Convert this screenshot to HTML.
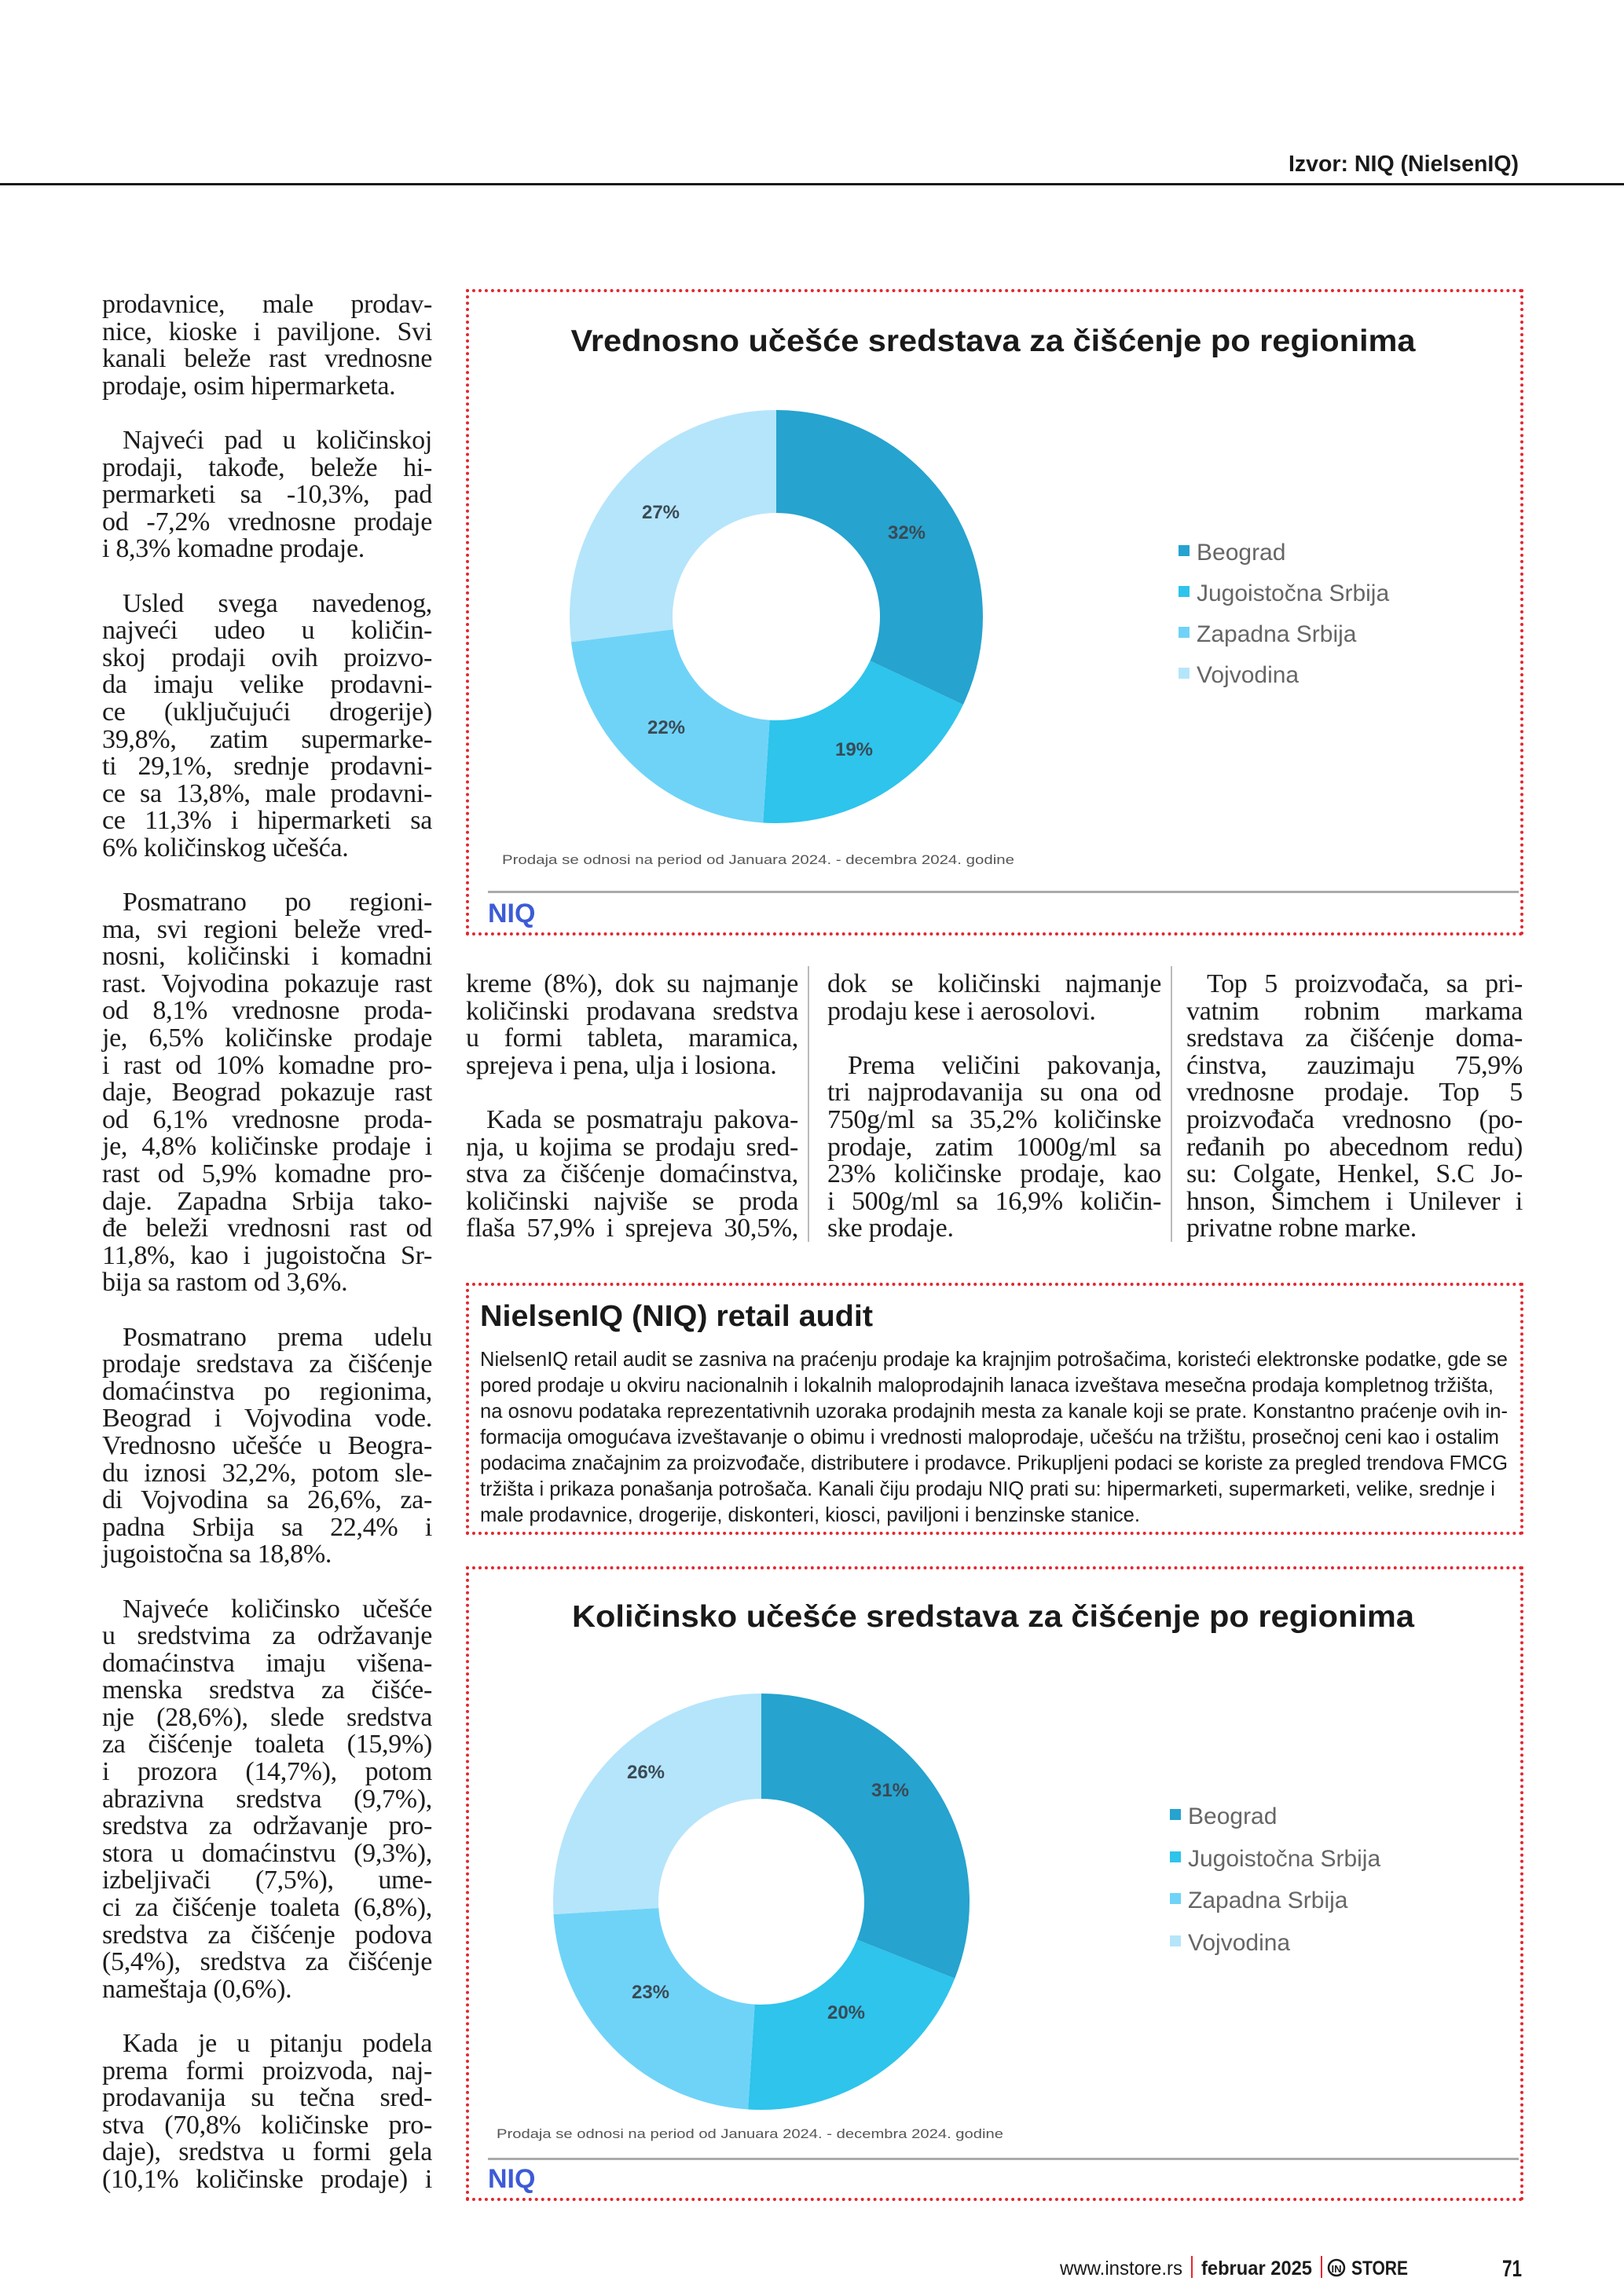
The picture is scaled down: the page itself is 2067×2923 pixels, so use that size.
<!DOCTYPE html>
<html><head><meta charset="utf-8">
<style>
html,body{margin:0;padding:0;background:#fff}
body{width:2067px;height:2923px;position:relative;overflow:hidden;font-family:"Liberation Serif",serif;color:#1a1a1a}
.abs{position:absolute}
.col{position:absolute;font-family:"Liberation Serif",serif;font-size:34px;line-height:34.6px;color:#1c1c1c;letter-spacing:-0.3px}
.col div{white-space:nowrap;height:34.6px}
.col .j{text-align:justify;text-align-last:justify}
.col .i{text-indent:26px}
.box{position:absolute;border:4px dotted #e3262e;box-sizing:border-box}
</style></head><body>

<!-- left column -->
<div class="col" style="left:130px;top:371px;width:420px">
<div class="j">prodavnice, male prodav-</div>
<div class="j">nice, kioske i paviljone. Svi</div>
<div class="j">kanali beleže rast vrednosne</div>
<div>prodaje, osim hipermarketa.</div>
<div></div>
<div class="j i">Najveći pad u količinskoj</div>
<div class="j">prodaji, takođe, beleže hi-</div>
<div class="j">permarketi sa -10,3%, pad</div>
<div class="j">od -7,2% vrednosne prodaje</div>
<div>i 8,3% komadne prodaje.</div>
<div></div>
<div class="j i">Usled svega navedenog,</div>
<div class="j">najveći udeo u količin-</div>
<div class="j">skoj prodaji ovih proizvo-</div>
<div class="j">da imaju velike prodavni-</div>
<div class="j">ce (uključujući drogerije)</div>
<div class="j">39,8%, zatim supermarke-</div>
<div class="j">ti 29,1%, srednje prodavni-</div>
<div class="j">ce sa 13,8%, male prodavni-</div>
<div class="j">ce 11,3% i hipermarketi sa</div>
<div>6% količinskog učešća.</div>
<div></div>
<div class="j i">Posmatrano po regioni-</div>
<div class="j">ma, svi regioni beleže vred-</div>
<div class="j">nosni, količinski i komadni</div>
<div class="j">rast. Vojvodina pokazuje rast</div>
<div class="j">od 8,1% vrednosne proda-</div>
<div class="j">je, 6,5% količinske prodaje</div>
<div class="j">i rast od 10% komadne pro-</div>
<div class="j">daje, Beograd pokazuje rast</div>
<div class="j">od 6,1% vrednosne proda-</div>
<div class="j">je, 4,8% količinske prodaje i</div>
<div class="j">rast od 5,9% komadne pro-</div>
<div class="j">daje. Zapadna Srbija tako-</div>
<div class="j">đe beleži vrednosni rast od</div>
<div class="j">11,8%, kao i jugoistočna Sr-</div>
<div>bija sa rastom od 3,6%.</div>
<div></div>
<div class="j i">Posmatrano prema udelu</div>
<div class="j">prodaje sredstava za čišćenje</div>
<div class="j">domaćinstva po regionima,</div>
<div class="j">Beograd i Vojvodina vode.</div>
<div class="j">Vrednosno učešće u Beogra-</div>
<div class="j">du iznosi 32,2%, potom sle-</div>
<div class="j">di Vojvodina sa 26,6%, za-</div>
<div class="j">padna Srbija sa 22,4% i</div>
<div>jugoistočna sa 18,8%.</div>
<div></div>
<div class="j i">Najveće količinsko učešće</div>
<div class="j">u sredstvima za održavanje</div>
<div class="j">domaćinstva imaju višena-</div>
<div class="j">menska sredstva za čišće-</div>
<div class="j">nje (28,6%), slede sredstva</div>
<div class="j">za čišćenje toaleta (15,9%)</div>
<div class="j">i prozora (14,7%), potom</div>
<div class="j">abrazivna sredstva (9,7%),</div>
<div class="j">sredstva za održavanje pro-</div>
<div class="j">stora u domaćinstvu (9,3%),</div>
<div class="j">izbeljivači (7,5%), ume-</div>
<div class="j">ci za čišćenje toaleta (6,8%),</div>
<div class="j">sredstva za čišćenje podova</div>
<div class="j">(5,4%), sredstva za čišćenje</div>
<div>nameštaja (0,6%).</div>
<div></div>
<div class="j i">Kada je u pitanju podela</div>
<div class="j">prema formi proizvoda, naj-</div>
<div class="j">prodavanija su tečna sred-</div>
<div class="j">stva (70,8% količinske pro-</div>
<div class="j">daje), sredstva u formi gela</div>
<div class="j">(10,1% količinske prodaje) i</div>
</div>

<!-- boxes -->
<div class="box" style="left:593px;top:368px;width:1346px;height:823px"></div>
<div class="box" style="left:593px;top:1633px;width:1346px;height:321px"></div>
<div class="box" style="left:593px;top:1994px;width:1346px;height:808px"></div>

<svg class="abs" style="left:0;top:0" width="2067" height="2923" viewBox="0 0 2067 2923">
<!-- header -->
<text x="1933" y="218" font-family="Liberation Sans, sans-serif" font-weight="bold" font-size="29" text-anchor="end" fill="#1a1a1a" textLength="293" lengthAdjust="spacingAndGlyphs">Izvor: NIQ (NielsenIQ)</text>
<rect x="0" y="233" width="2067" height="3" fill="#1a1a1a"/>

<g font-family="Liberation Sans, sans-serif">
<text x="1264" y="447" font-size="39" font-weight="bold" text-anchor="middle" fill="#1a1a1a" textLength="1075" lengthAdjust="spacingAndGlyphs">Vrednosno učešće sredstava za čišćenje po regionima</text>
<g transform="rotate(-90 988 785)" fill="none" stroke-width="131">
<circle cx="988" cy="785" r="197.5" stroke="#26a3cf" stroke-dasharray="397.1 1240.9" stroke-dashoffset="0"/>
<circle cx="988" cy="785" r="197.5" stroke="#2ec4ec" stroke-dasharray="235.8 1240.9" stroke-dashoffset="-397.1"/>
<circle cx="988" cy="785" r="197.5" stroke="#6fd3f7" stroke-dasharray="273.0 1240.9" stroke-dashoffset="-632.9"/>
<circle cx="988" cy="785" r="197.5" stroke="#b5e5fb" stroke-dasharray="335.0 1240.9" stroke-dashoffset="-905.9"/>
</g>
<g font-size="24" font-weight="bold" fill="#3a4a55" text-anchor="middle">
<text x="1154" y="686">32%</text><text x="1087" y="962">19%</text><text x="848" y="934">22%</text><text x="841" y="660">27%</text>
</g>
<g font-size="30" fill="#666">
<rect x="1500" y="694" width="14" height="14" fill="#26a3cf"/><text x="1523" y="713">Beograd</text>
<rect x="1500" y="746" width="14" height="14" fill="#2ec4ec"/><text x="1523" y="765">Jugoistočna Srbija</text>
<rect x="1500" y="798" width="14" height="14" fill="#6fd3f7"/><text x="1523" y="817">Zapadna Srbija</text>
<rect x="1500" y="850" width="14" height="14" fill="#b5e5fb"/><text x="1523" y="869">Vojvodina</text>
</g>
<text x="639" y="1100" font-size="17" fill="#555" textLength="652" lengthAdjust="spacingAndGlyphs">Prodaja se odnosi na period od Januara 2024. - decembra 2024. godine</text>
<rect x="621" y="1134" width="1312" height="3" fill="#aaa"/>
<text x="621" y="1174" font-size="34" font-weight="bold" fill="#3d5bd6">NIQ</text>

<!-- chart 2 -->
<text x="1264" y="2071" font-size="39" font-weight="bold" text-anchor="middle" fill="#1a1a1a" textLength="1072" lengthAdjust="spacingAndGlyphs">Količinsko učešće sredstava za čišćenje po regionima</text>
<g transform="rotate(-90 969 2421)" fill="none" stroke-width="134">
<circle cx="969" cy="2421" r="198" stroke="#26a3cf" stroke-dasharray="385.7 1244.1" stroke-dashoffset="0"/>
<circle cx="969" cy="2421" r="198" stroke="#2ec4ec" stroke-dasharray="248.8 1244.1" stroke-dashoffset="-385.7"/>
<circle cx="969" cy="2421" r="198" stroke="#6fd3f7" stroke-dasharray="286.1 1244.1" stroke-dashoffset="-634.5"/>
<circle cx="969" cy="2421" r="198" stroke="#b5e5fb" stroke-dasharray="323.5 1244.1" stroke-dashoffset="-920.6"/>
</g>
<g font-size="24" font-weight="bold" fill="#3a4a55" text-anchor="middle">
<text x="1133" y="2287">31%</text><text x="1077" y="2570">20%</text><text x="828" y="2544">23%</text><text x="822" y="2264">26%</text>
</g>
<g font-size="30" fill="#666">
<rect x="1489" y="2303" width="14" height="14" fill="#26a3cf"/><text x="1512" y="2322">Beograd</text>
<rect x="1489" y="2357" width="14" height="14" fill="#2ec4ec"/><text x="1512" y="2376">Jugoistočna Srbija</text>
<rect x="1489" y="2410" width="14" height="14" fill="#6fd3f7"/><text x="1512" y="2429">Zapadna Srbija</text>
<rect x="1489" y="2464" width="14" height="14" fill="#b5e5fb"/><text x="1512" y="2483">Vojvodina</text>
</g>
<text x="632" y="2722" font-size="17" fill="#555" textLength="645" lengthAdjust="spacingAndGlyphs">Prodaja se odnosi na period od Januara 2024. - decembra 2024. godine</text>
<rect x="621" y="2747" width="1312" height="3" fill="#aaa"/>
<text x="621" y="2785" font-size="34" font-weight="bold" fill="#3d5bd6">NIQ</text>

<!-- column separators -->
<rect x="1028" y="1230" width="2" height="351" fill="#bbb"/>
<rect x="1490" y="1230" width="2" height="351" fill="#bbb"/>

<!-- audit -->
<text x="611" y="1688" font-size="38" font-weight="bold" fill="#1a1a1a" textLength="500" lengthAdjust="spacingAndGlyphs">NielsenIQ (NIQ) retail audit</text>
<g font-size="26" fill="#1c1c1c" lengthAdjust="spacingAndGlyphs">
<text x="611" y="1739" textLength="1308" lengthAdjust="spacingAndGlyphs">NielsenIQ retail audit se zasniva na praćenju prodaje ka krajnjim potrošačima, koristeći elektronske podatke, gde se</text>
<text x="611" y="1772" textLength="1290" lengthAdjust="spacingAndGlyphs">pored prodaje u okviru nacionalnih i lokalnih maloprodajnih lanaca izveštava mesečna prodaja kompletnog tržišta,</text>
<text x="611" y="1805" textLength="1308" lengthAdjust="spacingAndGlyphs">na osnovu podataka reprezentativnih uzoraka prodajnih mesta za kanale koji se prate. Konstantno praćenje ovih in-</text>
<text x="611" y="1838" textLength="1297" lengthAdjust="spacingAndGlyphs">formacija omogućava izveštavanje o obimu i vrednosti maloprodaje, učešću na tržištu, prosečnoj ceni kao i ostalim</text>
<text x="611" y="1871" textLength="1308" lengthAdjust="spacingAndGlyphs">podacima značajnim za proizvođače, distributere i prodavce. Prikupljeni podaci se koriste za pregled trendova FMCG</text>
<text x="611" y="1904" textLength="1292" lengthAdjust="spacingAndGlyphs">tržišta i prikaza ponašanja potrošača. Kanali čiju prodaju NIQ prati su: hipermarketi, supermarketi, velike, srednje i</text>
<text x="611" y="1937" textLength="840" lengthAdjust="spacingAndGlyphs">male prodavnice, drogerije, diskonteri, kiosci, paviljoni i benzinske stanice.</text>
</g>

<!-- footer -->
<g font-size="25" fill="#1a1a1a">
<text x="1349" y="2896" textLength="156" lengthAdjust="spacingAndGlyphs">www.instore.rs</text>
<rect x="1516" y="2872" width="2" height="28" fill="#e3262e"/>
<text x="1529" y="2896" font-weight="bold" textLength="141" lengthAdjust="spacingAndGlyphs">februar 2025</text>
<rect x="1681" y="2872" width="2" height="28" fill="#e3262e"/>
<circle cx="1701" cy="2887" r="10" fill="none" stroke="#1a1a1a" stroke-width="2.5"/>
<text x="1701" y="2893" font-size="13" font-weight="bold" text-anchor="middle">IN</text>
<text x="1720" y="2896" font-weight="bold" textLength="72" lengthAdjust="spacingAndGlyphs">STORE</text>
<text x="1912" y="2898" font-size="30" font-weight="bold" textLength="25" lengthAdjust="spacingAndGlyphs">71</text>
</g>
</g>
</svg>

<!-- middle columns -->
<div class="col" style="left:593px;top:1236px;width:423px">
<div class="j">kreme (8%), dok su najmanje</div>
<div class="j">količinski prodavana sredstva</div>
<div class="j">u formi tableta, maramica,</div>
<div>sprejeva i pena, ulja i losiona.</div>
<div></div>
<div class="j i">Kada se posmatraju pakova-</div>
<div class="j">nja, u kojima se prodaju sred-</div>
<div class="j">stva za čišćenje domaćinstva,</div>
<div class="j">količinski najviše se proda</div>
<div class="j">flaša 57,9% i sprejeva 30,5%,</div>
</div>
<div class="col" style="left:1053px;top:1236px;width:425px">
<div class="j">dok se količinski najmanje</div>
<div>prodaju kese i aerosolovi.</div>
<div></div>
<div class="j i">Prema veličini pakovanja,</div>
<div class="j">tri najprodavanija su ona od</div>
<div class="j">750g/ml sa 35,2% količinske</div>
<div class="j">prodaje, zatim 1000g/ml sa</div>
<div class="j">23% količinske prodaje, kao</div>
<div class="j">i 500g/ml sa 16,9% količin-</div>
<div>ske prodaje.</div>
</div>
<div class="col" style="left:1510px;top:1236px;width:428px">
<div class="j i">Top 5 proizvođača, sa pri-</div>
<div class="j">vatnim robnim markama</div>
<div class="j">sredstava za čišćenje doma-</div>
<div class="j">ćinstva, zauzimaju 75,9%</div>
<div class="j">vrednosne prodaje. Top 5</div>
<div class="j">proizvođača vrednosno (po-</div>
<div class="j">ređanih po abecednom redu)</div>
<div class="j">su: Colgate, Henkel, S.C Jo-</div>
<div class="j">hnson, Šimchem i Unilever i</div>
<div>privatne robne marke.</div>
</div>
</body></html>
